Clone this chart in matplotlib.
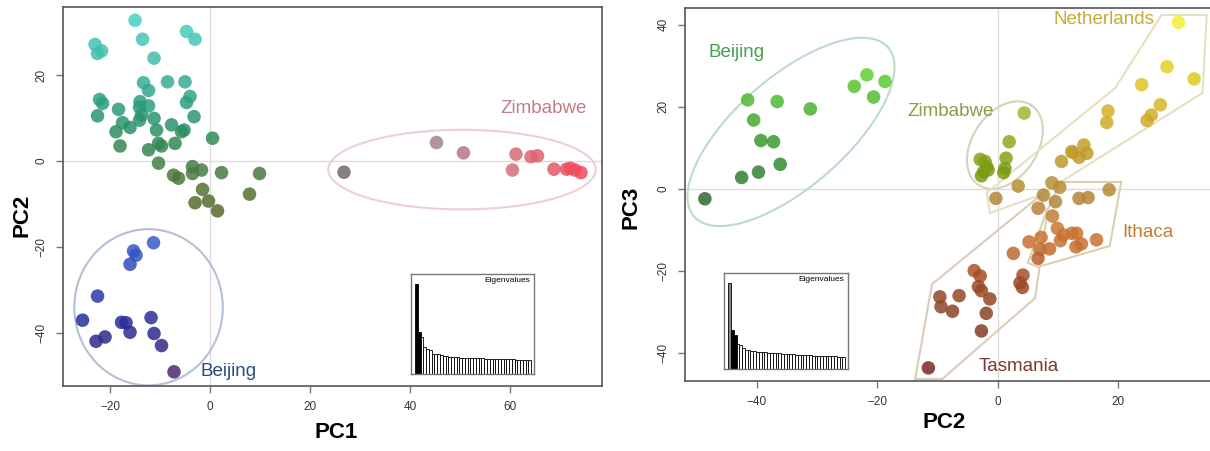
import numpy as np
import matplotlib
matplotlib.use('Agg')
import matplotlib.pyplot as plt
from matplotlib.patches import Ellipse
from matplotlib.colors import LinearSegmentedColormap as lsc

plt.rcParams['font.family'] = ['Liberation Sans', 'DejaVu Sans']

# ---- left panel: PC1 vs PC2
cont_x = [-15, -23, -21.7, -22.5, -13.5, -4.7, -3, -11.2, -13.3, -12.3, -8.5, -5, -4, -4.7, -3.2,
          -22.1, -21.5, -22.5, -18.3, -17.5, -16, -18.8, -18, -14, -14.1, -12.3, -13.7, -14.1,
          -11.2, -10.7, -7.7, -5.7, -5.2, -10.3, -9.7, -12.3, -7, 0.5, -10.3, -7.3, -6.3, -3.5,
          -3.5, -1.7, 2.3, 9.9, -1.5, 7.9, -3, -0.3, 1.5]
cont_y = [32.7, 27.1, 25.6, 25, 28.3, 30.1, 28.3, 23.9, 18.2, 16.4, 18.4, 18.4, 15, 13.6, 10.3,
          14.3, 13.4, 10.5, 12, 8.9, 7.8, 6.8, 3.5, 13.8, 12.5, 12.8, 10.7, 9.5,
          9.9, 7.2, 8.4, 6.8, 7.2, 4.1, 3.5, 2.6, 4.1, 5.3, -0.5, -3.3, -4, -1.3,
          -2.9, -2.1, -2.7, -2.9, -6.6, -7.7, -9.7, -9.3, -11.6]
bei1_x = [-11.3, -15.3, -14.8, -16, -22.5, -25.5, -17.7, -16.8, -16, -11.8, -11.2, -9.7, -21, -22.8, -7.2]
bei1_y = [-19, -20.9, -21.9, -24, -31.4, -37, -37.5, -37.6, -39.8, -36.4, -40.1, -42.9, -40.9, -41.9, -49]
zim1_x = [26.8, 45.3, 50.7, 61.2, 60.5, 64.2, 65.5, 68.8, 71.3, 72.1, 73, 74.2]
zim1_y = [-2.6, 4.3, 1.9, 1.6, -2.1, 1, 1.2, -1.9, -1.9, -1.7, -2.1, -2.7]
eig1 = [91, 42, 37, 27, 25.7, 24.3, 20.3, 20, 19.7, 18.7, 18.3, 17.7, 17.3,
        17.1, 16.9, 16.8, 16.6, 16.5, 16.4, 16.2, 16.1, 16.0, 15.9, 15.8, 15.7, 15.6, 15.5,
        15.4, 15.3, 15.2, 15.1, 15.0, 14.9, 14.9, 14.8, 14.7, 14.6, 14.5, 14.5, 14.4, 14.3, 14.3]

# ---- right panel: PC2 vs PC3
bei2_x = [-48.6, -42.5, -39.7, -36.1, -39.3, -37.2, -40.5, -41.5, -36.6, -31.1, -23.8, -21.7, -18.7, -20.6]
bei2_y = [-2.4, 2.8, 4.1, 6, 11.8, 11.5, 16.8, 21.7, 21.3, 19.5, 25, 27.8, 26.2, 22.4]
zim2_x = [4.4, 1.9, 1.4, 1.2, 1.0, -2.9, -2.1, -1.8, -2.3, -2.7, -1.6]
zim2_y = [18.5, 11.5, 7.5, 5.0, 4.0, 7.2, 6.7, 5.4, 4.2, 3.2, 4.6]
neth_x = [30.0, 28.1, 32.6, 23.9, 27.0, 25.5, 24.8, 18.3, 18.1, 14.3, 12.3, 14.8, 13.5, 10.6, 12.5, 3.4, -0.3]
neth_y = [40.6, 29.8, 26.8, 25.4, 20.5, 18.0, 16.7, 19.0, 16.2, 10.7, 9.1, 8.7, 7.7, 6.7, 8.9, 0.7, -2.3]
itha_x = [9.0, 10.3, 7.6, 9.6, 6.7, 13.5, 15.0, 18.5, 9.1, 9.9, 10.9, 10.4, 12.3, 13.1, 13.9, 13.0,
          16.4, 5.2, 7.2, 7.0, 8.6, 6.7, 2.6]
itha_y = [1.5, 0.4, -1.5, -3.1, -4.7, -2.3, -2.1, -0.2, -6.6, -9.6, -11.2, -12.6, -10.8, -10.8, -13.4, -14.1,
          -12.4, -12.9, -11.8, -14.7, -14.6, -16.9, -15.7]
tasm_x = [4.2, 3.7, 4.1, -3.9, -2.9, -3.2, -2.7, -1.3, -6.4, -9.6, -9.4, -7.5, -1.9, -2.7, -11.5]
tasm_y = [-21.0, -22.9, -24.0, -19.9, -21.2, -23.8, -24.8, -26.8, -26.0, -26.3, -28.7, -29.8, -30.3, -34.6, -43.6]
# group outlines
neth_hx = [-1.8, -1.3, 7.0, 34.0, 34.7, 27.2, 19.5]
neth_hy = [-0.9, -5.9, -1.5, 23.4, 42.4, 42.4, 24.6]
itha_hx = [10.5, 20.5, 18.6, 6.7, 5.0, 8.0]
itha_hy = [1.7, 1.7, -13.9, -19.0, -18.0, -5.9]
tasm_hx = [-13.7, -9.2, 6.2, 7.0, 8.2, 7.0, -10.9]
tasm_hy = [-46.3, -46.3, -26.6, -18.5, -5.9, -1.7, -23.2]
eig2 = [87.3, 39.7, 34.7, 25.7, 24, 21.7, 19, 18.7, 18.3, 18, 17.6, 17.3, 17.0, 16.7, 16.5, 16.3,
        16.1, 15.9, 15.7, 15.5, 15.3, 15.1, 14.9, 14.7, 14.5, 14.3, 14.1, 14.0, 13.8, 13.7, 13.5,
        13.4, 13.3, 13.2, 13.1, 13.0, 12.9, 12.8, 12.7, 12.6, 12.4, 12.3]


def cmap(stops, lo, hi):
    return lsc.from_list('g', [((v - lo) / (hi - lo), c) for v, c in stops])


def style(ax, xt, yt, xl, yl):
    ax.set_xlim(*xl); ax.set_ylim(*yl)
    ax.set_xticks(xt); ax.set_yticks(yt)
    for s in ax.spines.values():
        s.set_color('#555555'); s.set_linewidth(1.2)
    ax.tick_params(length=5, width=1, color='#777777', labelsize=8.5, labelcolor='#333333', pad=6)
    plt.setp(ax.get_yticklabels(), rotation=90, va='center')
    ax.axhline(0, color='#dcdcdc', lw=1, zorder=0)
    ax.axvline(0, color='#dcdcdc', lw=1, zorder=0)


def ring(ax, c, u, v, color):
    t = np.linspace(0, 2 * np.pi, 200)
    ax.plot(c[0] + u[0] * np.cos(t) + v[0] * np.sin(t), c[1] + u[1] * np.cos(t) + v[1] * np.sin(t),
            color=color, lw=1.5, zorder=1)


def inset(rect, eig, cols):
    ins = fig.add_axes(rect)
    n = len(eig)
    ins.bar(range(n), eig, width=1, color=cols + ['white'] * (n - len(cols)), edgecolor='black', linewidth=0.6)
    ins.set_xlim(-2.0, n + 0.5); ins.set_ylim(0, max(eig) * 1.11)
    ins.set_xticks([]); ins.set_yticks([])
    for s in ins.spines.values():
        s.set_color('#777777'); s.set_linewidth(1)
    ins.text(0.97, 0.97, 'Eigenvalues', transform=ins.transAxes, ha='right', va='top', fontsize=6)


fig = plt.figure(figsize=(12.1, 4.51), dpi=100)
pt = dict(s=95, alpha=0.85, edgecolors='none', zorder=3)

# left
ax1 = fig.add_axes([0.0521, 0.1441, 0.4454, 0.8404])
style(ax1, [-20, 0, 20, 40, 60], [-40, -20, 0, 20], (-29.4, 78.4), (-52.3, 35.8))
ax1.add_patch(Ellipse((-12.3, -34), 29.7, 36.3, fill=False, ec='#b4c0d4', lw=1.5, zorder=1))
ax1.add_patch(Ellipse((50.4, -2), 53.5, 18.5, fill=False, ec='#ecd0d4', lw=1.5, zorder=1))
ax1.scatter(cont_x, cont_y, c=cont_y, cmap=cmap([(-12, '#5a6a28'), (-3, '#4a7a40'), (5, '#2e8a58'),
            (12, '#2a9a7a'), (22, '#40b8a8'), (33, '#48d0c0')], -12, 33), vmin=-12, vmax=33, **pt)
ax1.scatter(bei1_x, bei1_y, c=bei1_y, cmap=cmap([(-49, '#4a2a70'), (-40, '#2a2a90'), (-30, '#2a3ab0'),
            (-19, '#3a5ac8')], -49, -19), vmin=-49, vmax=-19, **pt)
ax1.scatter(zim1_x, zim1_y, c=zim1_x, cmap=cmap([(27, '#706870'), (45, '#a08090'), (60, '#d07078'),
            (74, '#f04a5a')], 27, 74), vmin=27, vmax=74, **pt)
ax1.text(58, 12.1, 'Zimbabwe', color='#c47c86', fontsize=13.5, va='center')
ax1.text(-2, -49, 'Beijing', color='#2c4a7c', fontsize=13.5, va='center')
inset([411 / 1210, 1 - 374 / 451, 123 / 1210, 100 / 451], eig1, ['black', 'black'])

# right
ax2 = fig.add_axes([0.5661, 0.1552, 0.4372, 0.8271])
style(ax2, [-40, -20, 0, 20], [-40, -20, 0, 20, 40], (-51.9, 35.9), (-46.8, 44.1))
ring(ax2, (-34.3, 13.9), (16.1, 20.6), (6.0, -10.1), '#bcdcc8')
ring(ax2, (1.2, 10.7), (4.4, 9.7), (4.5, -4.4), '#d4d4bc')
for hx, hy, col in [(neth_hx, neth_hy, '#e6e0c0'), (itha_hx, itha_hy, '#dccfb0'), (tasm_hx, tasm_hy, '#dccbb8')]:
    ax2.fill(hx, hy, facecolor='none', edgecolor=col, lw=1.5, zorder=1)
main = cmap([(-44, '#782828'), (-30, '#8a4428'), (-22, '#a04a26'), (-14, '#c86e30'), (-8, '#c87a34'),
             (-2, '#b0883a'), (5, '#bc9630'), (12, '#c8a028'), (20, '#d4b428'), (28, '#e0cc20'),
             (41, '#f0f038')], -44, 41)
ax2.scatter(bei2_x, bei2_y, c=bei2_y, cmap=cmap([(-3, '#2e6a30'), (6, '#358a30'), (17, '#45a830'),
            (28, '#60d030')], -3, 28), vmin=-3, vmax=28, **pt)
ax2.scatter(zim2_x, zim2_y, c=zim2_y, cmap=cmap([(3, '#7a9a10'), (19, '#a0b830')], 3, 19), vmin=3, vmax=19, **pt)
for gx, gy in [(neth_x, neth_y), (itha_x, itha_y), (tasm_x, tasm_y)]:
    ax2.scatter(gx, gy, c=gy, cmap=main, vmin=-44, vmax=41, **pt)
ax2.text(-48.0, 33.2, 'Beijing', color='#45a050', fontsize=13.5, va='center')
ax2.text(-15.0, 18.9, 'Zimbabwe', color='#8a9c48', fontsize=13.5, va='center')
ax2.text(9.3, 41.4, 'Netherlands', color='#c4ac38', fontsize=13.5, va='center')
ax2.text(20.7, -10.5, 'Ithaca', color='#c47c30', fontsize=13.5, va='center')
ax2.text(-3.2, -43.3, 'Tasmania', color='#7a3a30', fontsize=13.5, va='center')
inset([724 / 1210, 1 - 369 / 451, 124 / 1210, 96 / 451], eig2, ['#888888', 'black', 'black'])

lab = dict(fontsize=16, fontweight='bold', ha='center', va='center')
fig.text(336 / 1210, 1 - 433 / 451, 'PC1', **lab)
fig.text(22 / 1210, 1 - 215 / 451, 'PC2', rotation=90, **lab)
fig.text(944 / 1210, 1 - 422 / 451, 'PC2', **lab)
fig.text(631 / 1210, 1 - 207 / 451, 'PC3', rotation=90, **lab)

fig.savefig('out.png', dpi=100)
